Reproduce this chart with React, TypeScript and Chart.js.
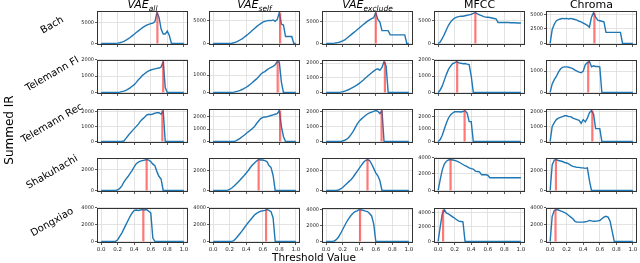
import React, { useEffect, useRef } from "react";
import { Chart, registerables } from "chart.js";

Chart.register(...registerables);

// ---------- data ----------
const thresholds = [
  0, 0.025, 0.05, 0.075, 0.1, 0.125, 0.15, 0.175, 0.2, 0.225, 0.25, 0.275, 0.3, 0.325,
  0.35, 0.375, 0.4, 0.425, 0.45, 0.475, 0.5, 0.525, 0.55, 0.575, 0.6, 0.625, 0.65,
  0.675, 0.7, 0.725, 0.75, 0.775, 0.8, 0.825, 0.85, 0.875, 0.9, 0.925, 0.95, 0.975, 1.0,
];

const xTickValues = [0, 0.2, 0.4, 0.6, 0.8, 1.0];

const rowLabels = ["Bach", "Telemann Fl", "Telemann Rec", "Shakuhachi", "Dongxiao"];
const columnNames = ["VAE", "VAE", "VAE", "MFCC", "Chroma"];
const columnSubscripts = ["all", "self", "exclude", "", ""];

// Bach
const bachAll = [0, 0, 0, 0, 0, 0, 0, 30, 80, 180, 320, 520, 780, 1100, 1450, 1850, 2250, 2650, 3050, 3450, 3850, 4150, 4450, 4650, 4800, 4950, 5300, 7500, 6300, 3500, 2300, 2300, 3000, 1900, 0, 0, 0, 0, 0, 0, 0];
const bachSelf = [0, 0, 0, 0, 0, 0, 0, 0, 0, 50, 150, 300, 500, 750, 1000, 1350, 1700, 2050, 2450, 2850, 3250, 3650, 4000, 4300, 4600, 4800, 4900, 5000, 4950, 5100, 4800, 5200, 6700, 4200, 4000, 1500, 1500, 1500, 1500, 0, 0];
const bachExclude = [0, 0, 10, 30, 70, 150, 250, 400, 600, 850, 1200, 1600, 2000, 2400, 2800, 3200, 3600, 4000, 4400, 4800, 5200, 5500, 5800, 6000, 7200, 5600, 5000, 3000, 3000, 3000, 3000, 2000, 2000, 2000, 2000, 2000, 2000, 2000, 2000, 0, 0];
const bachMfcc = [0, 300, 1100, 2000, 3000, 4000, 4700, 5200, 5600, 5800, 5900, 6000, 6000, 6100, 6200, 6300, 6400, 6600, 6800, 6500, 6300, 6100, 5900, 5800, 5750, 5700, 5600, 5500, 5400, 4600, 4600, 4600, 4600, 4600, 4600, 4550, 4550, 4550, 4500, 4500, 4500];
const bachChroma = [0, 2400, 3300, 3900, 4100, 4200, 4300, 4250, 4300, 4200, 4300, 4200, 4100, 4000, 3800, 3700, 3500, 3300, 3100, 2800, 4500, 5300, 4500, 4000, 3900, 3800, 3700, 1900, 1900, 1900, 1900, 1900, 1900, 1900, 1900, 0, 0, 0, 0, 0, 0];

// Telemann Fl
const flAll = [0, 0, 0, 0, 0, 0, 0, 0, 0, 20, 50, 80, 130, 200, 280, 380, 480, 620, 780, 900, 1050, 1150, 1250, 1320, 1380, 1420, 1450, 1480, 1500, 1560, 1900, 300, 0, 0, 0, 0, 0, 0, 0, 0, 0];
const flSelf = [0, 0, 0, 0, 0, 0, 0, 0, 0, 0, 20, 50, 80, 120, 170, 230, 300, 380, 470, 570, 680, 780, 900, 1050, 1150, 1200, 1300, 1380, 1450, 1500, 1600, 1780, 1750, 600, 0, 0, 0, 0, 0, 0, 0];
const flExclude = [0, 0, 0, 0, 0, 0, 0, 20, 50, 90, 140, 200, 270, 350, 430, 520, 620, 730, 850, 980, 1100, 1220, 1340, 1450, 1550, 1600, 1500, 1700, 2100, 1800, 0, 0, 0, 0, 0, 0, 0, 0, 0, 0, 0];
const flMfcc = [0, 150, 400, 750, 1100, 1400, 1600, 1750, 1800, 1880, 1800, 1780, 1750, 1760, 1720, 1700, 1000, 0, 0, 0, 0, 0, 0, 0, 0, 0, 0, 0, 0, 0, 0, 0, 0, 0, 0, 0, 0, 0, 0, 0, 0];
const flChroma = [0, 400, 600, 750, 950, 1100, 1180, 1200, 1200, 1180, 1150, 1120, 1050, 1000, 950, 920, 1000, 1300, 1400, 1450, 1200, 1250, 1220, 1220, 1200, 0, 0, 0, 0, 0, 0, 0, 0, 0, 0, 0, 0, 0, 0, 0, 0];

// Telemann Rec
const recAll = [0, 0, 0, 0, 0, 0, 0, 0, 0, 0, 0, 30, 200, 380, 550, 700, 850, 1000, 1150, 1350, 1480, 1600, 1750, 1800, 1780, 1820, 1880, 1900, 1900, 1800, 2050, 0, 0, 0, 0, 0, 0, 0, 0, 0, 0];
const recSelf = [0, 0, 0, 0, 0, 0, 0, 0, 0, 0, 0, 50, 150, 250, 380, 500, 650, 780, 900, 1050, 1200, 1450, 1650, 1850, 1950, 1980, 2000, 2050, 2100, 2150, 2200, 2250, 2500, 1200, 400, 0, 0, 0, 0, 0, 0];
const recExclude = [0, 0, 0, 0, 0, 0, 0, 0, 30, 80, 150, 280, 450, 650, 900, 1150, 1350, 1480, 1600, 1720, 1820, 1900, 1950, 2000, 2050, 2000, 1850, 2050, 0, 0, 0, 0, 0, 0, 0, 0, 0, 0, 0, 0, 0];
const recMfcc = [0, 150, 500, 1000, 1500, 1900, 2150, 2300, 2400, 2400, 2400, 2380, 2420, 2500, 2300, 1600, 1600, 0, 0, 0, 0, 0, 0, 0, 0, 0, 0, 0, 0, 0, 0, 0, 0, 0, 0, 0, 0, 0, 0, 0, 0];
const recChroma = [0, 1000, 1250, 1450, 1550, 1600, 1650, 1700, 1700, 1650, 1650, 1550, 1500, 1450, 1400, 1200, 1450, 1300, 1550, 1900, 2050, 1800, 850, 850, 850, 0, 0, 0, 0, 0, 0, 0, 0, 0, 0, 0, 0, 0, 0, 0, 0];

// Shakuhachi
const shakAll = [0, 0, 0, 0, 0, 0, 0, 0, 50, 200, 450, 800, 1100, 1350, 1650, 1950, 2300, 2600, 2750, 2850, 2900, 2950, 3000, 2950, 2800, 2550, 2400, 1800, 1350, 1100, 0, 0, 0, 0, 0, 0, 0, 0, 0, 0, 0];
const shakSelf = [0, 0, 0, 0, 0, 0, 0, 30, 100, 250, 420, 620, 830, 1050, 1280, 1500, 1750, 2000, 2300, 2550, 2750, 2950, 3100, 3050, 3050, 3000, 2900, 2500, 2300, 1500, 0, 0, 0, 0, 0, 0, 0, 0, 0, 0, 0];
const shakExclude = [0, 0, 0, 0, 0, 0, 50, 150, 300, 500, 700, 900, 1100, 1350, 1650, 1950, 2250, 2550, 2850, 3050, 3150, 3050, 2700, 2250, 1800, 1500, 1000, 0, 0, 0, 0, 0, 0, 0, 0, 0, 0, 0, 0, 0, 0];
const shakMfcc = [0, 1300, 2500, 3200, 3550, 3700, 3750, 3700, 3650, 3550, 3450, 3300, 3150, 3000, 2900, 2750, 2650, 2600, 2350, 2300, 2250, 1900, 1900, 1900, 1850, 1550, 1550, 1550, 1550, 1550, 1550, 1550, 1550, 1550, 1550, 1550, 1550, 1550, 1550, 1550, 1550];
const shakChroma = [0, 2600, 3100, 3150, 3050, 3000, 2950, 2850, 2800, 2700, 2550, 2450, 2400, 2350, 2350, 2300, 2300, 2250, 2300, 1000, 0, 0, 0, 0, 0, 0, 0, 0, 0, 0, 0, 0, 0, 0, 0, 0, 0, 0, 0, 0, 0];

// Dongxiao
const dongAll = [0, 0, 0, 0, 0, 0, 0, 0, 200, 600, 1000, 1500, 2000, 2500, 3000, 3400, 3700, 3750, 3700, 3750, 3800, 3750, 3800, 3600, 3400, 400, 0, 0, 0, 0, 0, 0, 0, 0, 0, 0, 0, 0, 0, 0, 0];
const dongSelf = [0, 0, 0, 0, 0, 0, 0, 0, 0, 0, 100, 350, 650, 950, 1250, 1600, 1950, 2250, 2550, 2850, 3150, 3350, 3500, 3600, 3650, 3700, 3800, 3700, 3550, 2800, 0, 0, 0, 0, 0, 0, 0, 0, 0, 0, 0];
const dongExclude = [0, 0, 0, 0, 50, 250, 550, 1000, 1500, 2000, 2500, 2900, 3250, 3550, 3750, 3850, 4000, 3950, 3900, 3800, 3750, 3500, 3200, 2200, 0, 0, 0, 0, 0, 0, 0, 0, 0, 0, 0, 0, 0, 0, 0, 0, 0];
const dongMfcc = [0, 2000, 3800, 4400, 3900, 3800, 3600, 3400, 3200, 3000, 2800, 2750, 2700, 0, 0, 0, 0, 0, 0, 0, 0, 0, 0, 0, 0, 0, 0, 0, 0, 0, 0, 0, 0, 0, 0, 0, 0, 0, 0, 0, 0];
const dongChroma = [0, 3000, 3700, 3800, 3750, 3650, 3550, 3450, 3300, 3100, 2900, 2700, 2400, 2300, 2300, 2300, 2300, 2350, 2400, 2500, 2450, 2400, 2400, 2450, 2500, 2700, 2900, 3000, 2900, 2400, 1200, 0, 0, 0, 0, 0, 0, 0, 0, 0, 0];

// chosen thresholds (red lines), per row
const bachRed = [0.68, 0.81, 0.6, 0.45, 0.535];
const flRed = [0.75, 0.78, 0.71, 0.23, 0.46];
const recRed = [0.74, 0.81, 0.67, 0.32, 0.51];
const shakRed = [0.55, 0.55, 0.5, 0.15, 0.07];
const dongRed = [0.51, 0.64, 0.41, 0.06, 0.065];

// y tick values, per row
const bachTicks = [[0, 5000], [0, 5000], [0, 5000], [0, 5000], [0, 2500, 5000]];
const flTicks = [[0, 1000, 2000], [0, 1000], [0, 1000, 2000], [0, 1000, 2000], [0, 1000]];
const recTicks = [[0, 1000, 2000], [0, 1000, 2000], [0, 1000, 2000], [0, 1000, 2000], [0, 1000, 2000]];
const shakTicks = [[0, 2000], [0, 2000], [0, 2000], [0, 2000, 4000], [0, 2000]];
const dongTicks = [[0, 2000, 4000], [0, 2000, 4000], [0, 2000, 4000], [0, 2000, 4000], [0, 2000, 4000]];

const rowSeries = [
  [bachAll, bachSelf, bachExclude, bachMfcc, bachChroma],
  [flAll, flSelf, flExclude, flMfcc, flChroma],
  [recAll, recSelf, recExclude, recMfcc, recChroma],
  [shakAll, shakSelf, shakExclude, shakMfcc, shakChroma],
  [dongAll, dongSelf, dongExclude, dongMfcc, dongChroma],
];
const rowRed = [bachRed, flRed, recRed, shakRed, dongRed];
const rowTicks = [bachTicks, flTicks, recTicks, shakTicks, dongTicks];

// ---------- layout ----------
const FRAME_LEFT = [97, 209, 322, 434, 546];
const FRAME_TOP = [10, 59, 108, 157, 207];
const FRAME_W = 91;
const FRAME_H = 36;
const Y_AXIS_W = 26;
const PAD_T = 3;
const PAD_R = 6;
const FONT = "'DejaVu Sans', sans-serif";

const framePlugin = {
  id: "frame",
  afterDraw(chart: any) {
    const { ctx, chartArea } = chart;
    ctx.save();
    ctx.strokeStyle = "#333";
    ctx.lineWidth = 1;
    ctx.strokeRect(
      Math.round(chartArea.left) + 0.5,
      Math.round(chartArea.top) + 0.5,
      Math.round(chartArea.right - chartArea.left) - 1,
      Math.round(chartArea.bottom - chartArea.top) - 1
    );
    ctx.restore();
  },
};

function Panel(props: { values: number[]; red: number; yTicks: number[]; showX: boolean; left: number; top: number }) {
  const { values, red, yTicks, showX, left, top } = props;
  const ref = useRef<HTMLCanvasElement | null>(null);
  const xh = showX ? 12 : 3;
  const width = FRAME_W + Y_AXIS_W + PAD_R;
  const height = FRAME_H + PAD_T + xh;

  useEffect(() => {
    if (!ref.current) return;
    const max = Math.max(...values);
    const chart = new Chart(ref.current, {
      type: "line",
      data: {
        datasets: [
          {
            data: thresholds.map((x, i) => ({ x, y: values[i] })),
            borderColor: "#1f77b4",
            borderWidth: 1.4,
            pointRadius: 0,
            fill: false,
            tension: 0,
            order: 2,
          },
          {
            data: [
              { x: red, y: 0 },
              { x: red, y: max },
            ],
            borderColor: "rgba(255,30,30,0.6)",
            borderWidth: 2.2,
            pointRadius: 0,
            fill: false,
            order: 1,
          },
        ],
      },
      options: {
        animation: false,
        responsive: false,
        events: [],
        layout: { padding: { left: 0, top: PAD_T, right: PAD_R, bottom: 0 } },
        plugins: { legend: { display: false }, tooltip: { enabled: false } },
        scales: {
          x: {
            type: "linear",
            min: -0.05,
            max: 1.05,
            afterBuildTicks: (s: any) => {
              s.ticks = xTickValues.map((v) => ({ value: v }));
            },
            afterFit: (s: any) => {
              s.height = xh;
            },
            ticks: {
              display: showX,
              autoSkip: false,
              maxRotation: 0,
              padding: 1,
              color: "#222",
              font: { size: 5.5, family: FONT },
              callback: (v: any) => Number(v).toFixed(1),
            },
            grid: { color: "#dcdcdc", lineWidth: 0.8, tickColor: "#333", tickLength: 2, drawTicks: true },
            border: { display: false },
          },
          y: {
            type: "linear",
            min: -0.05 * max,
            max: 1.05 * max,
            afterBuildTicks: (s: any) => {
              s.ticks = yTicks.map((v) => ({ value: v }));
            },
            afterFit: (s: any) => {
              s.width = Y_AXIS_W;
            },
            ticks: {
              autoSkip: false,
              padding: 1,
              color: "#222",
              font: { size: 5, family: FONT },
              callback: (v: any) => String(v),
            },
            grid: { color: "#dcdcdc", lineWidth: 0.8, tickColor: "#333", tickLength: 2, drawTicks: true },
            border: { display: false },
          },
        },
      },
      plugins: [framePlugin],
    } as any);
    return () => chart.destroy();
  }, []);

  return (
    <canvas
      ref={ref}
      width={width}
      height={height}
      style={{ position: "absolute", left: left - Y_AXIS_W, top: top - PAD_T, width, height }}
    />
  );
}

export default function App() {
  const panels: any[] = [];
  rowSeries.forEach((row, r) => {
    row.forEach((values, c) => {
      panels.push(
        <Panel
          key={`${r}-${c}`}
          values={values}
          red={rowRed[r][c]}
          yTicks={rowTicks[r][c]}
          showX={r === rowSeries.length - 1}
          left={FRAME_LEFT[c]}
          top={FRAME_TOP[r]}
        />
      );
    });
  });

  return (
    <div
      style={{
        position: "absolute",
        left: 0,
        top: 0,
        width: 640,
        height: 263,
        background: "#fff",
        overflow: "hidden",
        fontFamily: FONT,
        color: "#000",
      }}
    >
      {panels}
      {columnNames.map((name, c) => (
        <div
          key={`t${c}`}
          style={{
            position: "absolute",
            left: FRAME_LEFT[c] + FRAME_W / 2 - 60,
            width: 120,
            top: -1,
            textAlign: "center",
            fontSize: 11,
            lineHeight: "11px",
            whiteSpace: "nowrap",
            fontStyle: columnSubscripts[c] ? "italic" : "normal",
          }}
        >
          {name}
          {columnSubscripts[c] ? (
            <span style={{ fontSize: 7.5, position: "relative", top: 2.5 }}>{columnSubscripts[c]}</span>
          ) : null}
        </div>
      ))}
      {rowLabels.map((label, r) => (
        <div
          key={`r${r}`}
          style={{
            position: "absolute",
            left: 52,
            top: FRAME_TOP[r] + FRAME_H / 2 - 3,
            transform: "translate(-50%, -50%) rotate(-30deg)",
            fontSize: 10,
            lineHeight: "10px",
            whiteSpace: "nowrap",
          }}
        >
          {label}
        </div>
      ))}
      <div
        style={{
          position: "absolute",
          left: 9,
          top: 130,
          transform: "translate(-50%, -50%) rotate(-90deg)",
          fontSize: 12,
          lineHeight: "12px",
          whiteSpace: "nowrap",
        }}
      >
        Summed IR
      </div>
      <div
        style={{
          position: "absolute",
          left: 314,
          top: 257,
          transform: "translate(-50%, -50%)",
          fontSize: 10.5,
          lineHeight: "11px",
          whiteSpace: "nowrap",
        }}
      >
        Threshold Value
      </div>
    </div>
  );
}
